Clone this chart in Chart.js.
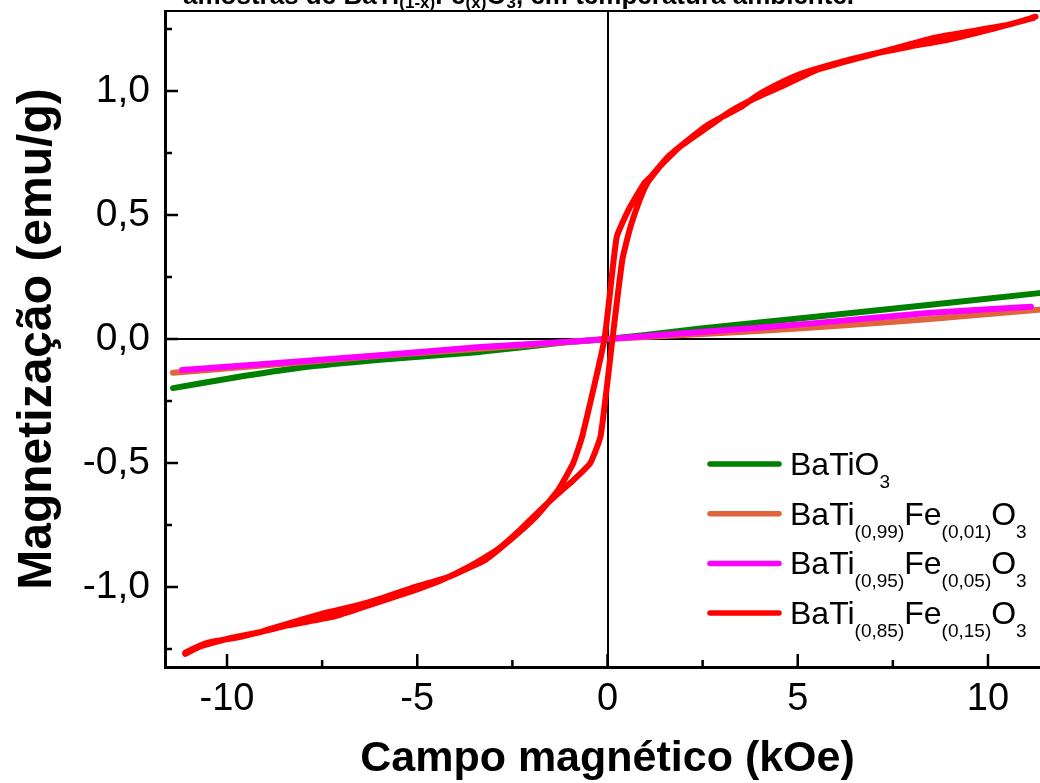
<!DOCTYPE html>
<html>
<head>
<meta charset="utf-8">
<script src="https://cdn.jsdelivr.net/npm/chart.js@4.4.0/dist/chart.umd.min.js"></script>
<style>
  html, body { margin: 0; padding: 0; overflow: hidden; background: #fff; }
  canvas { display: block; }
</style>
</head>
<body>
<canvas id="myChart" width="1050" height="783"></canvas>
<script>
// BaTiO3
const batioH = [-11.42, -9.87, -8.13, -5.9, -3.34, -1.16, 0, 1.0, 2.45, 5.4, 8.42, 11.4, 11.63];
const batioM = [-0.198, -0.157, -0.117, -0.083, -0.052, -0.014, 0.0, 0.016, 0.042, 0.089, 0.137, 0.186, 0.19];

// BaTi(0,99)Fe(0,01)O3
const fe01H = [-11.42, -8.5, -6.0, -3.0, 0, 2.5, 5.4, 8.4, 11.63];
const fe01M = [-0.136, -0.1, -0.068, -0.035, 0.0, 0.02, 0.046, 0.08, 0.122];

// BaTi(0,95)Fe(0,05)O3
const fe05H = [-11.18, -8.5, -5.9, -3.34, -0.7, 0.34, 2.45, 5.45, 8.42, 11.13];
const fe05M = [-0.125, -0.095, -0.065, -0.032, -0.008, 0.004, 0.028, 0.064, 0.105, 0.13];

// BaTi(0,85)Fe(0,15)O3 - ramo descendente
const fe15DownH = [11.18, 10.1, 9.03, 7.9, 6.84, 5.9, 5.08, 4.5, 3.95, 3.5, 3.0, 2.63, 2.1, 1.58, 1.13, 0.97, 0.55, 0.24, -0.08, -0.66, -0.9, -1.3, -1.9, -2.55, -3.2, -3.74, -4.18, -5.05, -5.92, -6.71, -7.42, -8.66, -9.08, -9.87, -10.7, -11.1];
const fe15DownM = [1.294, 1.25, 1.21, 1.178, 1.145, 1.108, 1.07, 1.03, 0.984, 0.935, 0.895, 0.863, 0.8, 0.734, 0.653, 0.63, 0.52, 0.41, 0.0, -0.39, -0.5, -0.61, -0.72, -0.81, -0.89, -0.93, -0.96, -1.0, -1.045, -1.08, -1.105, -1.16, -1.18, -1.205, -1.24, -1.27];
// ramo ascendente
const fe15UpH = [-11.1, -10.5, -9.6, -8.4, -7.2, -6.2, -5.2, -4.4, -3.6, -2.9, -2.3, -1.7, -1.2, -0.9, -0.45, -0.18, 0.13, 0.39, 0.6, 0.87, 1.05, 1.4, 1.9, 2.5, 3.2, 3.8, 4.6, 5.5, 6.4, 7.5, 8.6, 9.7, 10.6, 11.25];
const fe15UpM = [-1.265, -1.225, -1.2, -1.155, -1.12, -1.07, -1.02, -0.975, -0.915, -0.85, -0.77, -0.68, -0.61, -0.57, -0.5, -0.39, 0.0, 0.32, 0.45, 0.57, 0.63, 0.7, 0.775, 0.84, 0.915, 0.965, 1.02, 1.085, 1.125, 1.17, 1.215, 1.245, 1.27, 1.3];

const xMajor = [-10, -5, 0, 5, 10];
const xMinor = [-7.5, -2.5, 2.5, 7.5];
const yMajor = [-1, -0.5, 0, 0.5, 1];
const yMinor = [-1.25, -0.75, -0.25, 0.25, 0.75, 1.25];

const legendItems = [
    { color: "#008000", parts: [["BaTiO", 0], ["3", 1]] },
    { color: "#e0643c", parts: [["BaTi", 0], ["(0,99)", 1], ["Fe", 0], ["(0,01)", 1], ["O", 0], ["3", 1]] },
    { color: "#ff00ff", parts: [["BaTi", 0], ["(0,95)", 1], ["Fe", 0], ["(0,05)", 1], ["O", 0], ["3", 1]] },
    { color: "#ff0000", parts: [["BaTi", 0], ["(0,85)", 1], ["Fe", 0], ["(0,15)", 1], ["O", 0], ["3", 1]] },
];
const titleParts = [["amostras de BaTi", 0], ["(1-x)", 1], ["Fe", 0], ["(x)", 1], ["O", 0], ["3", 1], [", em temperatura ambiente.", 0]];

const toPoints = (hs, ms) => hs.map((h, i) => ({ x: h, y: ms[i] }));

const FONT = "'Liberation Sans', Arial, sans-serif";

const series = function (label, points, color) {
    return {
        label: label,
        data: points,
        showLine: true,
        borderColor: color,
        backgroundColor: color,
        borderWidth: 6,
        pointRadius: 0,
        borderCapStyle: "round",
        borderJoinStyle: "round",
        tension: 0.15,
    };
};

const drawRich = function (ctx, parts, x, y, size, subSize, subDrop, bold) {
    let cx = x;
    parts.forEach(([txt, sub]) => {
        ctx.font = (bold ? "bold " : "") + (sub ? subSize : size) + "px " + FONT;
        ctx.fillText(txt, cx, sub ? y + subDrop : y);
        cx += ctx.measureText(txt).width;
    });
};

const decor = {
    id: "decor",
    afterDraw(chart) {
        const { ctx, chartArea: a, scales: { x, y } } = chart;
        ctx.save();
        ctx.strokeStyle = "#000";
        ctx.lineWidth = 2.5;
        ctx.beginPath();
        xMajor.forEach(v => { const p = x.getPixelForValue(v); ctx.moveTo(p, a.bottom); ctx.lineTo(p, a.bottom - 13); });
        xMinor.forEach(v => { const p = x.getPixelForValue(v); ctx.moveTo(p, a.bottom); ctx.lineTo(p, a.bottom - 7); });
        yMajor.forEach(v => { const p = y.getPixelForValue(v); ctx.moveTo(a.left, p); ctx.lineTo(a.left + 13, p); });
        yMinor.forEach(v => { const p = y.getPixelForValue(v); ctx.moveTo(a.left, p); ctx.lineTo(a.left + 7, p); });
        ctx.stroke();
        ctx.lineWidth = 2;
        ctx.beginPath();
        ctx.moveTo(a.left, a.top);
        ctx.lineTo(a.right, a.top);
        ctx.stroke();

        // legenda
        ctx.lineCap = "round";
        ctx.lineWidth = 5.5;
        ctx.fillStyle = "#000";
        ctx.textBaseline = "alphabetic";
        legendItems.forEach((item, i) => {
            const ly = 464 + i * 49.7;
            ctx.strokeStyle = item.color;
            ctx.beginPath();
            ctx.moveTo(710, ly);
            ctx.lineTo(779, ly);
            ctx.stroke();
            ctx.fillStyle = "#000";
            drawRich(ctx, item.parts, 790, ly + 11, 32, 19, 13, false);
        });

        // titulo cortado
        drawRich(ctx, titleParts, 183, 4, 26, 17, 4, true);
        ctx.restore();
    },
};

const ctx = document.getElementById("myChart").getContext("2d");
const myChart = new Chart(ctx, {
    type: "scatter",
    data: {
        datasets: [
            series("BaTi(0,85)Fe(0,15)O3", toPoints(fe15DownH, fe15DownM).concat(toPoints(fe15UpH, fe15UpM)), "#ff0000"),
            series("BaTi(0,95)Fe(0,05)O3", toPoints(fe05H, fe05M), "#ff00ff"),
            series("BaTi(0,99)Fe(0,01)O3", toPoints(fe01H, fe01M), "#e0643c"),
            series("BaTiO3", toPoints(batioH, batioM), "#008000"),
        ],
    },
    options: {
        responsive: false,
        animation: false,
        layout: { padding: { top: 11, left: 0, right: 0, bottom: 0 } },
        plugins: { legend: { display: false }, tooltip: { enabled: false } },
        scales: {
            x: {
                type: "linear",
                min: -11.63,
                max: 11.63,
                afterFit: (s) => { s.height = 116; s.paddingLeft = 0; s.paddingRight = 0; },
                ticks: {
                    stepSize: 5,
                    includeBounds: false,
                    color: "#000",
                    padding: 10,
                    font: { size: 38, family: FONT },
                    callback: (v) => String(v),
                },
                grid: {
                    drawTicks: false,
                    lineWidth: 2,
                    color: (c) => (c.tick && c.tick.value === 0 ? "#000" : "rgba(0,0,0,0)"),
                },
                border: { display: true, color: "#000", width: 3 },
                title: {
                    display: true,
                    text: "Campo magnético (kOe)",
                    color: "#000",
                    font: { size: 43, weight: "bold", family: FONT, lineHeight: 1 },
                    padding: { top: 0, bottom: 2 },
                },
            },
            y: {
                min: -1.323,
                max: 1.323,
                afterFit: (s) => { s.width = 165; s.paddingTop = 0; s.paddingBottom = 0; },
                ticks: {
                    stepSize: 0.5,
                    includeBounds: false,
                    color: "#000",
                    padding: 15,
                    font: { size: 39, family: FONT },
                    callback: (v) => (Math.abs(v) < 1e-9 ? "0,0" : v.toFixed(1).replace(".", ",")),
                },
                grid: {
                    drawTicks: false,
                    lineWidth: 2,
                    color: (c) => (c.tick && c.tick.value === 0 ? "#000" : "rgba(0,0,0,0)"),
                },
                border: { display: true, color: "#000", width: 3 },
                title: {
                    display: true,
                    text: "Magnetização (emu/g)",
                    color: "#000",
                    font: { size: 48, weight: "bold", family: FONT, lineHeight: 1 },
                    padding: { top: 14, bottom: 0 },
                },
            },
        },
    },
    plugins: [decor],
});
</script>
</body>
</html>
